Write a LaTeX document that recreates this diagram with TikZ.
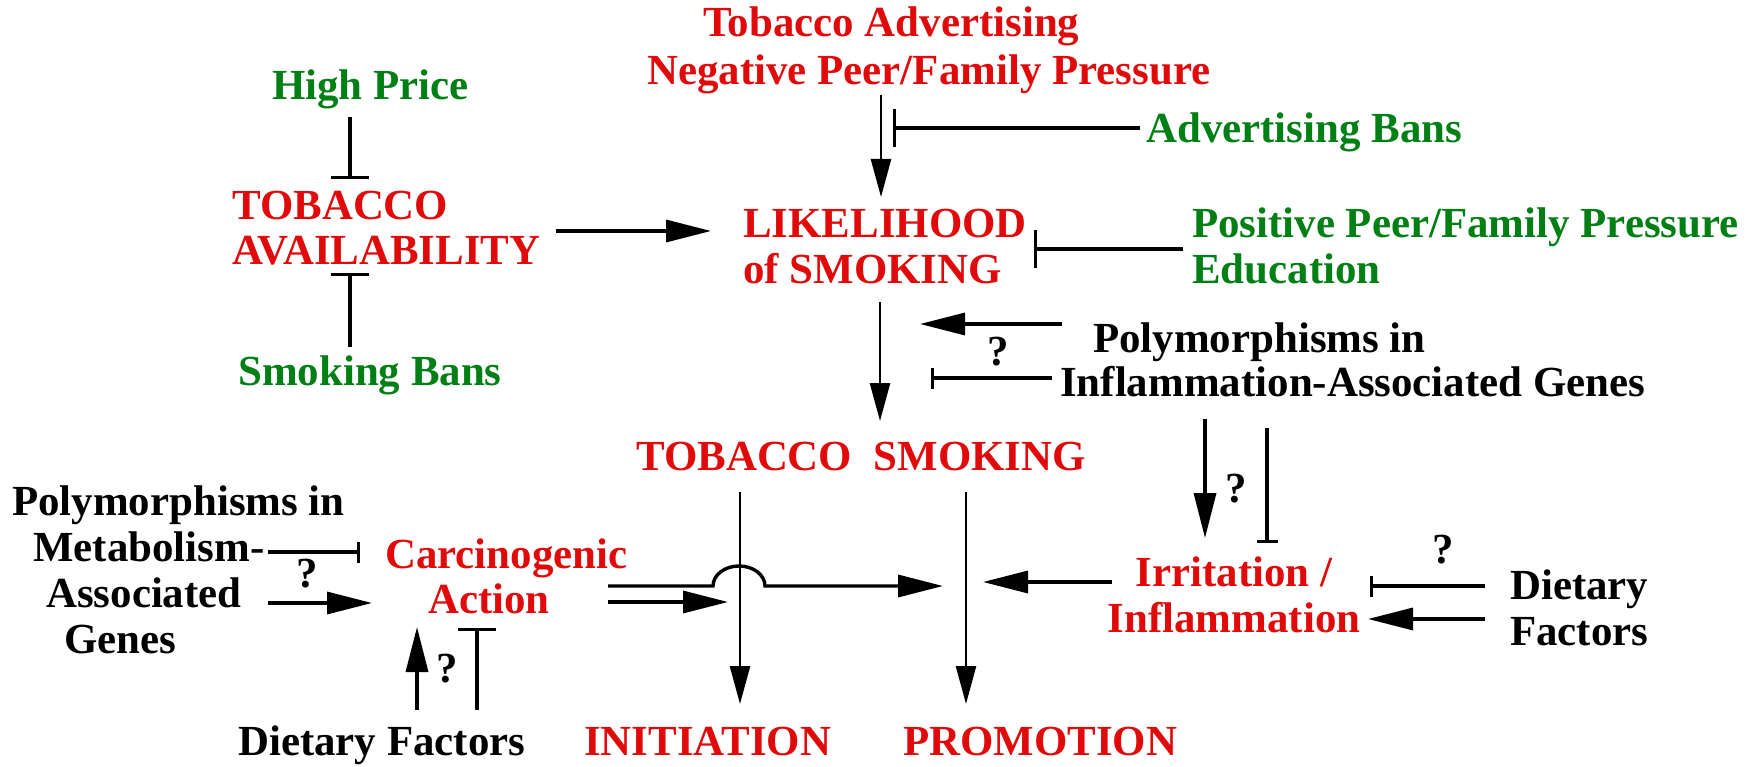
\documentclass[tikz,border=0pt]{standalone}
\usepackage{fontspec}
\setmainfont{Liberation Serif}
\usetikzlibrary{arrows.meta}
\definecolor{cred}{RGB}{225,10,10}
\definecolor{cgreen}{RGB}{0,128,20}
\begin{document}
\begin{tikzpicture}[x=1pt,y=-1pt,
  lbl/.style={inner sep=0pt, anchor=base west, font=\fontsize{42.9pt}{45pt}\selectfont\bfseries},
  rtx/.style={lbl, text=cred},
  gtx/.style={lbl, text=cgreen},
  ktx/.style={lbl, text=black},
  qm/.style={inner sep=0pt, anchor=base, font=\fontsize{42.9pt}{45pt}\selectfont\bfseries},
  arr/.style={line width=3.4pt, -{Triangle[length=45pt,width=22pt]}},
  thinarr/.style={line width=2.6pt, -{Triangle[length=38pt,width=20pt]}},
  inhL/.style={line width=3.4pt, -{Bar[width=38pt]}},
  inhS/.style={line width=3.4pt, -{Bar[width=21pt]}},
]
\useasboundingbox (0,0) rectangle (1752,767);

% texts
\node[rtx] (adv1) at (703,37) {Tobacco Advertising};
\node[rtx] (adv2) at (647,85) {Negative Peer/Family Pressure};
\node[gtx] (hp) at (272,100) {High Price};
\node[rtx] (av1) at (232,220) {TOBACCO};
\node[rtx] (av2) at (232,265) {AVAILABILITY};
\node[gtx] (sb) at (238,385) {Smoking Bans};
\node[rtx] (lk1) at (743,238) {LIKELIHOOD};
\node[rtx] (lk2) at (743,283) {of SMOKING};
\node[gtx] (ab) at (1146,143) {Advertising Bans};
\node[gtx] (pp1) at (1192,238) {Positive Peer/Family Pressure};
\node[gtx] (pp2) at (1192,283) {Education};
\node[ktx] (pi1) at (1093,352) {Polymorphisms in};
\node[ktx] (pi2) at (1060,396) {Inflammation-Associated Genes};
\node[rtx] (ts) at (636,470) {TOBACCO~~SMOKING};
\node[rtx] (ca1) at (385,568) {Carcinogenic};
\node[rtx] (ca2) at (428,613) {Action};
\node[ktx] (pm1) at (12,515) {Polymorphisms in};
\node[ktx] (pm2) at (33,561) {Metabolism-};
\node[ktx] (pm3) at (46,607) {Associated};
\node[ktx] (pm4) at (64,653) {Genes};
\node[ktx] (dfb) at (238,755) {Dietary Factors};
\node[rtx] (ini) at (584,755) {INITIATION};
\node[rtx] (pro) at (903,755) {PROMOTION};
\node[rtx, anchor=base] (ir1) at (1234,586) {Irritation /};
\node[rtx, anchor=base] (ir2) at (1234,632) {Inflammation};
\node[ktx] (dr1) at (1510,599) {Dietary};
\node[ktx] (dr2) at (1510,645) {Factors};

\node[qm] (q1) at (998,365) {?};
\node[qm] (q2) at (1236,502) {?};
\node[qm] (q3) at (1443,563) {?};
\node[qm] (q4) at (307,587) {?};
\node[qm] (q5) at (447,682) {?};

% connector end points
\coordinate (hpA) at (350,117); \coordinate (hpB) at (350,179);
\coordinate (sbA) at (350,347); \coordinate (sbB) at (350,273);
\coordinate (avA) at (556,231); \coordinate (lkA) at (711,231);
\coordinate (ngA) at (881,95);  \coordinate (lkB) at (881,197);
\coordinate (abA) at (1140,128); \coordinate (abB) at (893,128);
\coordinate (ppA) at (1183,249); \coordinate (ppB) at (1034,249);
\coordinate (lkC) at (880,302); \coordinate (tsA) at (880,421);
\coordinate (piA) at (1062,324); \coordinate (piB) at (920,324);
\coordinate (piC) at (1052,378); \coordinate (piD) at (931,378);
\coordinate (piE) at (1205,419); \coordinate (irA) at (1205,538);
\coordinate (piF) at (1267,428); \coordinate (irB) at (1267,543);
\coordinate (drA) at (1485,586); \coordinate (irC) at (1370,586);
\coordinate (drB) at (1485,619); \coordinate (irD) at (1368,619);
\coordinate (irE) at (1112,582); \coordinate (prA) at (983,582);
\coordinate (tsB) at (740,492); \coordinate (inA) at (740,704);
\coordinate (tsC) at (966,492); \coordinate (prB) at (966,704);
\coordinate (caA) at (608,586); \coordinate (caB) at (943,586);
\coordinate (caC) at (608,602); \coordinate (caD) at (728,602);
\coordinate (pmA) at (268,552); \coordinate (caE) at (360,552);
\coordinate (pmB) at (268,603); \coordinate (caF) at (372,603);
\coordinate (dbA) at (417,710); \coordinate (caG) at (417,627);
\coordinate (dbB) at (477,710); \coordinate (caH) at (477,628);

% connectors
\draw[inhL] (hpA) -- (hpB);
\draw[inhL] (sbA) -- (sbB);
\draw[arr] (avA) -- (lkA);
\draw[thinarr] (ngA) -- (lkB);
\draw[inhL] (abA) -- (abB);
\draw[inhL] (ppA) -- (ppB);
\draw[thinarr] (lkC) -- (tsA);
\draw[arr] (piA) -- (piB);
\draw[inhS] (piC) -- (piD);
\draw[arr] (piE) -- (irA);
\draw[inhS] (piF) -- (irB);
\draw[inhS] (drA) -- (irC);
\draw[arr] (drB) -- (irD);
\draw[arr] (irE) -- (prA);
\draw[thinarr] (tsB) -- (inA);
\draw[thinarr] (tsC) -- (prB);
\draw[arr] (caA) -- (713,586) arc[start angle=180, end angle=0, x radius=26pt, y radius=20pt] -- (caB);
\draw[arr] (caC) -- (caD);
\draw[inhS] (pmA) -- (caE);
\draw[arr] (pmB) -- (caF);
\draw[arr] (dbA) -- (caG);
\draw[inhL] (dbB) -- (caH);
\end{tikzpicture}
\end{document}
